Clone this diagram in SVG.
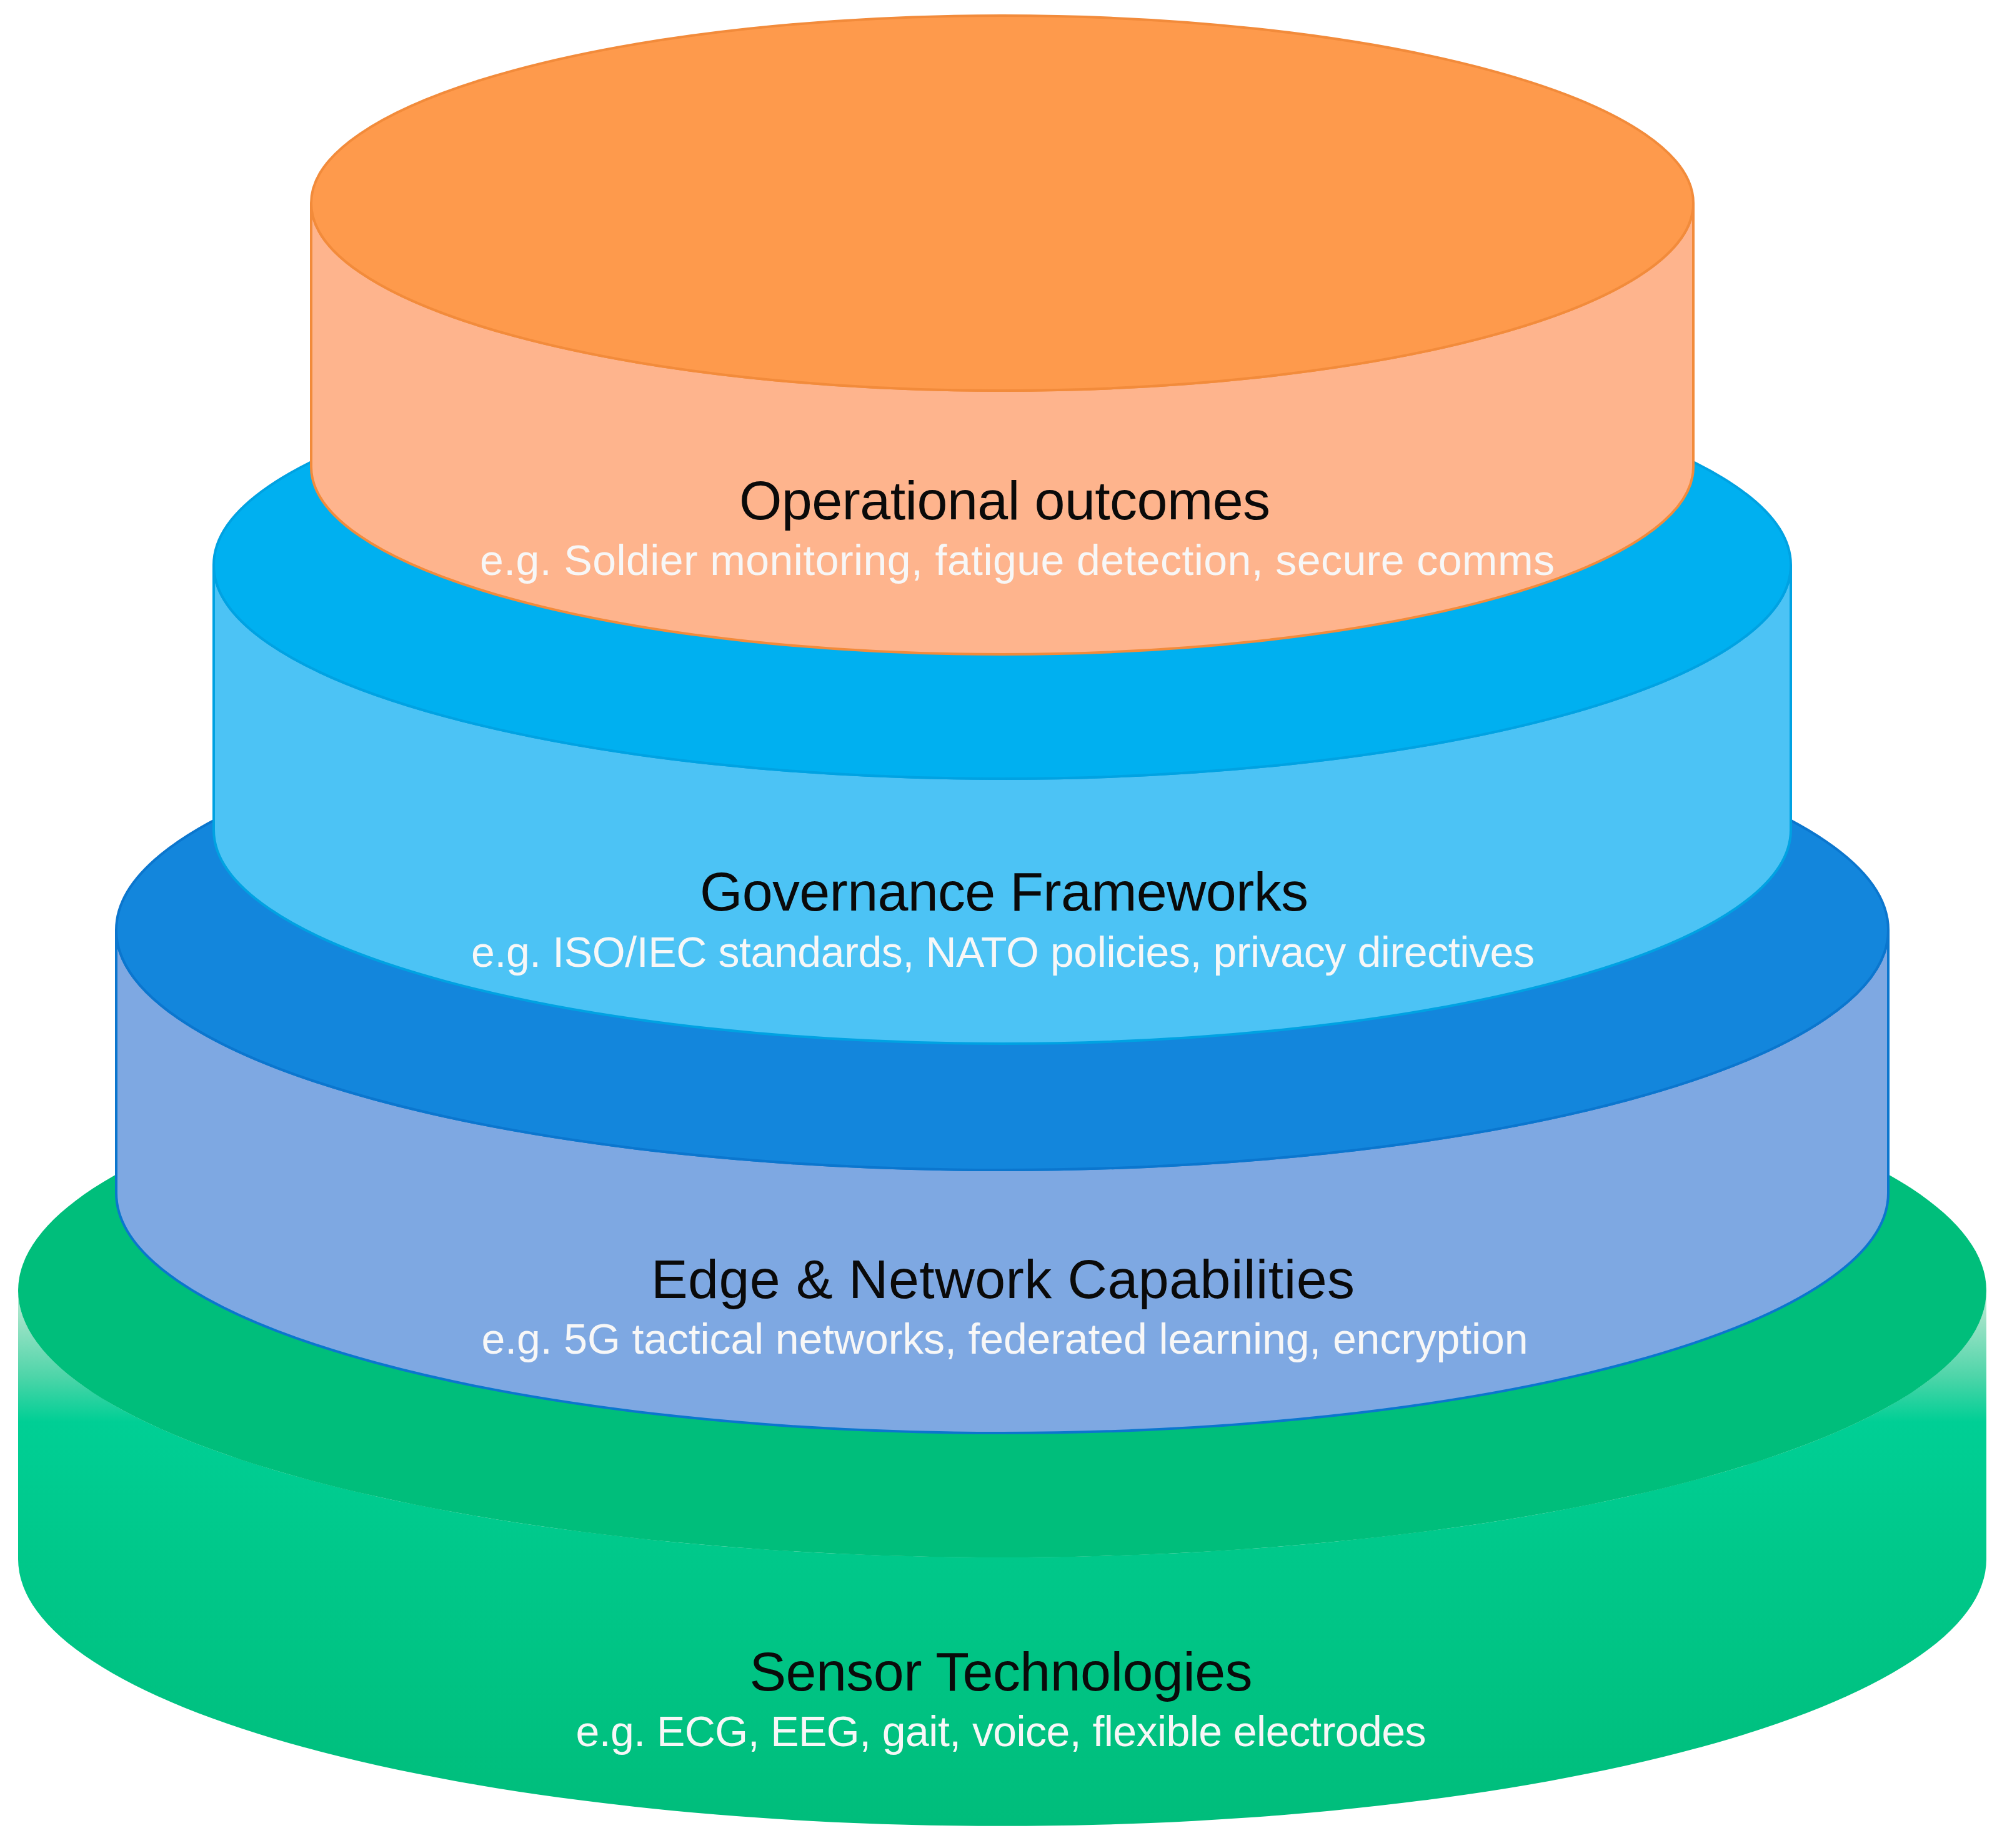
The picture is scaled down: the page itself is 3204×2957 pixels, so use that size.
<svg xmlns="http://www.w3.org/2000/svg" width="3204" height="2957" viewBox="0 0 3204 2957">
<defs>
<linearGradient id="greenSide" gradientUnits="userSpaceOnUse" x1="0" y1="2065" x2="0" y2="2922">
<stop offset="0" stop-color="#B8EBD6"/>
<stop offset="0.05" stop-color="#9FE3C7"/>
<stop offset="0.16" stop-color="#4ED5A9"/>
<stop offset="0.245" stop-color="#00CF95"/>
<stop offset="0.5" stop-color="#00C88A"/>
<stop offset="1" stop-color="#00BD7B"/>
</linearGradient>
</defs>
<style>
.title{font-family:"Liberation Sans",Arial,sans-serif;font-size:88px;fill:#0a0a0a;text-anchor:middle}
.sub{font-family:"Liberation Sans",Arial,sans-serif;font-size:68px;fill:#F7F7F7;text-anchor:middle}
.o-top{fill:#FE9A4C;stroke:#F28B3B;stroke-width:4}
.o-side{fill:#FEB48D;stroke:#F28B3B;stroke-width:4}
.b-top{fill:#00B0F0;stroke:#00A2E2;stroke-width:4}
.b-side{fill:#4CC3F5;stroke:#00A2E2;stroke-width:4}
.d-top{fill:#1386DC;stroke:#0B76CE;stroke-width:4}
.d-side{fill:#7EA8E2;stroke:#0B76CE;stroke-width:4}
.g-top{fill:#00BE7B}
.g-side{fill:url(#greenSide)}
</style>
<rect width="3204" height="2957" fill="#FFFFFF"/>

<g id="sensor-technologies">
<path class="g-side" d="M29 2065 L29 2495 A1575 427 0 0 0 3179 2495 L3179 2065 A1575 427 0 0 1 29 2065 Z"/>
<ellipse class="g-top" cx="1604" cy="2065" rx="1575" ry="427"/>
<text class="title" x="1602" y="2705" textLength="805" lengthAdjust="spacing">Sensor Technologies</text>
<text class="sub" x="1602" y="2794" textLength="1361" lengthAdjust="spacing">e.g. ECG, EEG, gait, voice, flexible electrodes</text>
</g>

<g id="edge-network-capabilities">
<path class="d-side" d="M186 1488 L186 1909 A1418 384 0 0 0 3022 1909 L3022 1488 A1418 384 0 0 1 186 1488 Z"/>
<ellipse class="d-top" cx="1604" cy="1488" rx="1418" ry="384"/>
<text class="title" x="1605" y="2077" textLength="1126" lengthAdjust="spacing">Edge &amp; Network Capabilities</text>
<text class="sub" x="1608" y="2166" textLength="1675" lengthAdjust="spacing">e.g. 5G tactical networks, federated learning, encryption</text>
</g>

<g id="governance-frameworks">
<path class="b-side" d="M342 904 L342 1328 A1262 342 0 0 0 2866 1328 L2866 904 A1262 342 0 0 1 342 904 Z"/>
<ellipse class="b-top" cx="1604" cy="904" rx="1262" ry="342"/>
<text class="title" x="1607" y="1457" textLength="974" lengthAdjust="spacing">Governance Frameworks</text>
<text class="sub" x="1605" y="1547" textLength="1702" lengthAdjust="spacing">e.g. ISO/IEC standards, NATO policies, privacy directives</text>
</g>

<g id="operational-outcomes">
<path class="o-side" d="M498 325 L498 747 A1106 300 0 0 0 2710 747 L2710 325 A1106 300 0 0 1 498 325 Z"/>
<ellipse class="o-top" cx="1604" cy="325" rx="1106" ry="300"/>
<text class="title" x="1608" y="831" textLength="850" lengthAdjust="spacing">Operational outcomes</text>
<text class="sub" x="1628" y="920" textLength="1720" lengthAdjust="spacing">e.g. Soldier monitoring, fatigue detection, secure comms</text>
</g>
</svg>
